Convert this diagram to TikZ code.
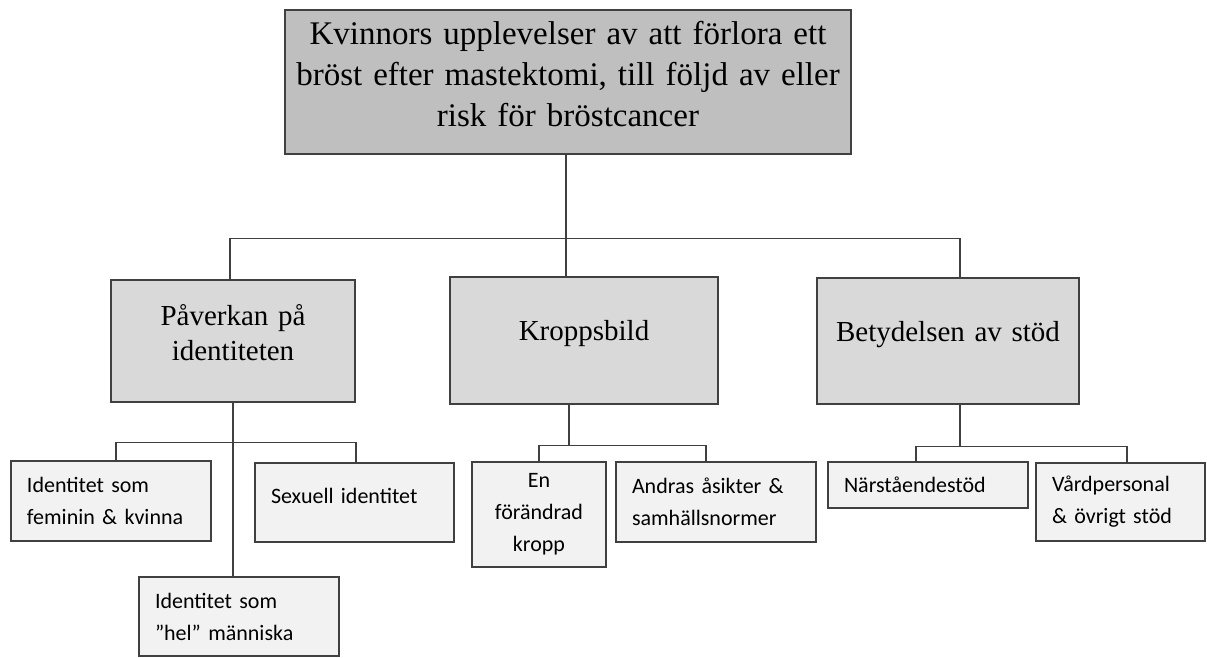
\documentclass[tikz,border=0pt]{standalone}
\usepackage{fontspec}
\setmainfont{Liberation Serif}
\newfontfamily\calibri{Carlito}
\usepackage{xcolor}
\definecolor{krdark}{RGB}{191,191,191}
\definecolor{krmid}{RGB}{217,217,217}
\definecolor{krpale}{RGB}{242,242,242}
\definecolor{krline}{RGB}{64,64,64}
\usepackage{tikz}

\tikzset{
  box/.style={draw=krline, line width=1.2pt, inner xsep=16pt, inner ysep=0pt, align=left},
  topbox/.style={box, fill=krdark, inner xsep=3pt, font=\fontsize{33}{41}\selectfont, align=center},
  midbox/.style={box, fill=krmid, font=\fontsize{29}{35}\selectfont, align=center},
  subbox/.style={box, fill=krpale, font=\calibri\fontsize{22}{32}\selectfont},
  lift/.style={execute at end node={\par\kern#1}},
  link/.style={draw=krline, line width=1.2pt}
}

\begin{document}
\begin{tikzpicture}[x=1pt, y=1pt]
  \useasboundingbox (0,0) rectangle (1207,-657);

  \node[topbox, lift=16pt, minimum height=144pt, text width=560pt] (top) at (568,-82)
    {Kvinnors upplevelser av att förlora ett\\ bröst efter mastektomi, till följd av eller\\ risk för bröstcancer};

  \node[midbox, lift=16pt, minimum height=122pt, text width=212pt] (pav) at (233,-341) {Påverkan på\\ identiteten};
  \node[midbox, lift=14pt, minimum height=127pt, text width=236pt] (krop) at (584,-340.5) {Kroppsbild};
  \node[midbox, lift=12pt, minimum height=126pt, text width=230pt] (bet) at (948,-341) {Betydelsen av stöd};

  \node[subbox, minimum height=80pt, text width=168pt] (idf) at (111,-501) {Identitet som\\ feminin \& kvinna};
  \node[subbox, lift=14pt, minimum height=79pt, text width=167pt] (sex) at (354.5,-502.5) {Sexuell identitet};
  \node[subbox, minimum height=79pt, text width=168pt] (hel) at (239,-616.5) {Identitet som\\ ”hel” människa};
  \node[subbox, align=center, minimum height=105pt, text width=102pt] (enf) at (539,-514.5) {En\\ förändrad\\ kropp};
  \node[subbox, minimum height=80pt, text width=168pt] (and) at (716,-502) {Andras åsikter \&\\ samhällsnormer};
  \node[subbox, minimum height=46pt, text width=168pt] (nar) at (928,-485) {Närståendestöd};
  \node[subbox, minimum height=78pt, text width=137pt] (vard) at (1120.5,-502) {Vårdpersonal\\ \& övrigt stöd};

  \coordinate (bus) at ([yshift=-84pt]top.south);
  \draw[link] ([xshift=-2pt]top.south) -- ([xshift=-2pt]top.south |- krop.north);
  \draw[link] ([xshift=-3pt]pav.north) |- (bus) -| ([xshift=12pt]bet.north);

  \draw[link] (pav.south) -- (pav.south |- hel.north);
  \draw[link] ([xshift=5pt]idf.north) |- ([yshift=-40pt]pav.south) -| ([xshift=1.5pt]sex.north);

  \draw[link] ([xshift=-15pt]krop.south) -- ([xshift=-15pt,yshift=-41pt]krop.south);
  \draw[link] (enf.north) |- ([xshift=-15pt,yshift=-41pt]krop.south) -| ([xshift=-10pt]and.north);

  \draw[link] ([xshift=12pt]bet.south) -- ([xshift=12pt,yshift=-42pt]bet.south);
  \draw[link] ([xshift=-12pt]nar.north) |- ([xshift=12pt,yshift=-42pt]bet.south) -| ([xshift=6.5pt]vard.north);
\end{tikzpicture}
\end{document}
